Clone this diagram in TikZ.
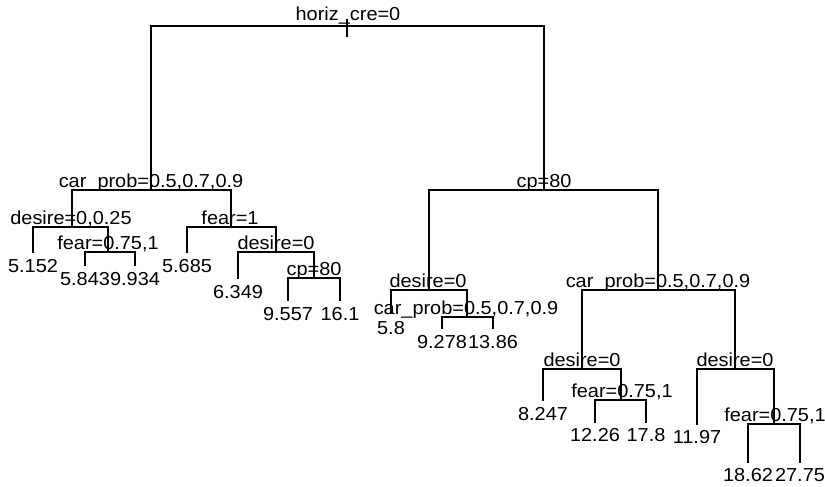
\documentclass[tikz,border=0pt]{standalone}
\usepackage{fontspec}
\setmainfont{Liberation Sans}[FakeStretch=1.06]
\usepackage{tikz}
\usetikzlibrary{positioning}

\begin{document}
\begin{tikzpicture}[
  x=1pt, y=-1pt,
  font=\fontsize{18.8}{20}\selectfont,
  split/.style={anchor=base, inner sep=0pt},
  leaf/.style={anchor=north, inner sep=0pt},
  edge/.style={line width=1.5pt, line cap=rect}
]
\useasboundingbox (0,0) rectangle (825,487);

% split points
\coordinate (n0)  at (347,26);
\coordinate (n1)  at (151,190);
\coordinate (n2)  at (544,190);
\coordinate (n3)  at (72,227);
\coordinate (n4)  at (231,227);
\coordinate (n5)  at (108,252);
\coordinate (n6)  at (276,252);
\coordinate (n7)  at (314,278);
\coordinate (n8)  at (429,290);
\coordinate (n9)  at (658,290);
\coordinate (n10) at (467,317);
\coordinate (n11) at (582,369);
\coordinate (n12) at (735,369);
\coordinate (n13) at (621,400);
\coordinate (n14) at (774,424);

% leaf ends
\coordinate (f1)  at (33,252);
\coordinate (f2)  at (85,265);
\coordinate (f3)  at (135,265);
\coordinate (f4)  at (187,252);
\coordinate (f5)  at (238,278);
\coordinate (f6)  at (288,300);
\coordinate (f7)  at (340,300);
\coordinate (f8)  at (391,313);
\coordinate (f9)  at (442,328);
\coordinate (f10) at (493,328);
\coordinate (f11) at (543,400);
\coordinate (f12) at (595,422);
\coordinate (f13) at (646,422);
\coordinate (f14) at (697,424);
\coordinate (f15) at (748,462);
\coordinate (f16) at (800,462);

\coordinate (tick) at (347,20);
\coordinate (tickend) at (347,36);
\draw[edge] (tick) -- (tickend);

\foreach \p/\c in {n0/n1, n0/n2, n1/n3, n1/n4, n3/f1, n3/n5, n5/f2, n5/f3,
                   n4/f4, n4/n6, n6/f5, n6/n7, n7/f6, n7/f7,
                   n2/n8, n2/n9, n8/f8, n8/n10, n10/f9, n10/f10,
                   n9/n11, n9/n12, n11/f11, n11/n13, n13/f12, n13/f13,
                   n12/f14, n12/n14, n14/f15, n14/f16} {
  \draw[edge] (\p) -| (\c);
}

% split labels
\node[split] (s0)  at (348,21)  {horiz\_cre=0};
\node[split] (s1)  at (151,187) {car\_prob=0.5,0.7,0.9};
\node[split] (s2)  at (544,187) {cp=80};
\node[split] (s3)  at (71,224)  {desire=0,0.25};
\node[split] (s4)  at (230,224) {fear=1};
\node[split] (s5)  at (108,249) {fear=0.75,1};
\node[split] (s6)  at (276,249) {desire=0};
\node[split] (s7)  at (314,275) {cp=80};
\node[split] (s8)  at (428,287) {desire=0};
\node[split] (s9)  at (658,287) {car\_prob=0.5,0.7,0.9};
\node[split] (s10) at (466,314) {car\_prob=0.5,0.7,0.9};
\node[split] (s11) at (582,366) {desire=0};
\node[split] (s12) at (735,366) {desire=0};
\node[split] (s13) at (622,397) {fear=0.75,1};
\node[split] (s14) at (775,421) {fear=0.75,1};

% leaf labels
\node[leaf] (v1)  at (33,259)  {5.152};
\node[leaf] (v2)  at (85,272)  {5.843};
\node[leaf] (v3)  at (135,272) {9.934};
\node[leaf] (v4)  at (187,259) {5.685};
\node[leaf] (v5)  at (238,285) {6.349};
\node[leaf] (v6)  at (288,307) {9.557};
\node[leaf] (v7)  at (340,307) {16.1};
\node[leaf] (v8)  at (391,321) {5.8};
\node[leaf] (v9)  at (442,335) {9.278};
\node[leaf] (v10) at (493,335) {13.86};
\node[leaf] (v11) at (543,407) {8.247};
\node[leaf] (v12) at (595,428) {12.26};
\node[leaf] (v13) at (646,428) {17.8};
\node[leaf] (v14) at (697,430) {11.97};
\node[leaf] (v15) at (748,468) {18.62};
\node[leaf] (v16) at (800,468) {27.75};
\end{tikzpicture}
\end{document}
